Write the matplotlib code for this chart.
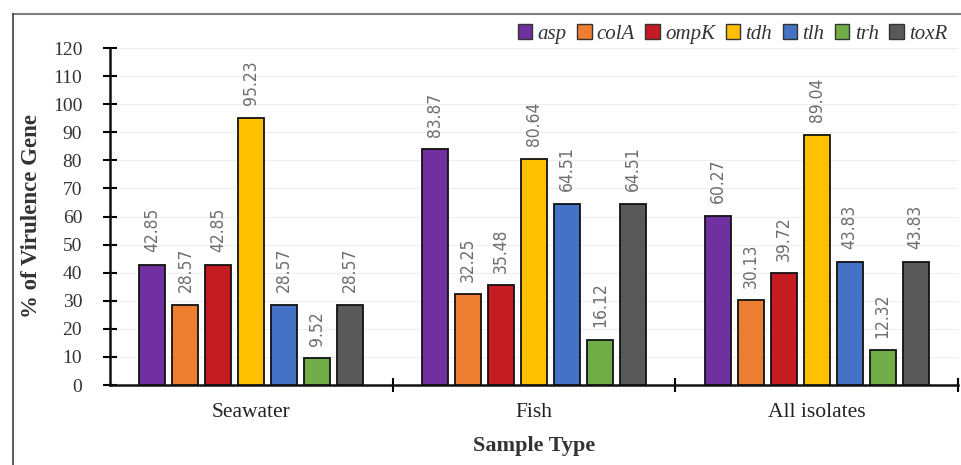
import matplotlib.pyplot as plt
import matplotlib.patches as patches
import numpy as np

# data
sample_types = ['Seawater', 'Fish', 'All isolates']
genes = ['asp', 'colA', 'ompK', 'tdh', 'tlh', 'trh', 'toxR']
asp = [42.85, 83.87, 60.27]
colA = [28.57, 32.25, 30.13]
ompK = [42.85, 35.48, 39.72]
tdh = [95.23, 80.64, 89.04]
tlh = [28.57, 64.51, 43.83]
trh = [9.52, 16.12, 12.32]
toxR = [28.57, 64.51, 43.83]
y_ticks = list(range(0, 121, 10))

series = [asp, colA, ompK, tdh, tlh, trh, toxR]
colors = ['#7030A0', '#ED7D31', '#C51B23', '#FFC000', '#4472C4', '#70AD47', '#595959']

fig = plt.figure(figsize=(9.61, 4.65), dpi=100)
W, H = 961, 465

# outer frame (top + left lines of the screenshot)
fig.add_artist(plt.Line2D([13 / W, 1], [1 - 14 / H, 1 - 14 / H], color='#808080', lw=1.5))
fig.add_artist(plt.Line2D([13 / W, 13 / W], [0, 1 - 14 / H], color='#404040', lw=1.2))

ax = fig.add_axes([110 / W, (H - 385) / H, (958 - 110) / W, (385 - 48) / H])

x = np.arange(len(sample_types))
step = 33 / 283
width = 26 / 283

for i, (g, vals, c) in enumerate(zip(genes, series, colors)):
    pos = x + (i - 3) * step
    ax.bar(pos, vals, width, color=c, edgecolor='#111111', linewidth=1.3,
           label=g, zorder=3)
    for xp, v in zip(pos, vals):
        ax.annotate(f'{v:.2f}', (xp, v), xytext=(0, 9), textcoords='offset points',
                    rotation=90, ha='center', va='bottom', fontsize=12.5,
                    color='#6e6e6e', family='DejaVu Sans', fontstretch='condensed')

ax.set_xlim(-0.5, 2.5)
ax.set_ylim(0, 120)
ax.set_yticks(y_ticks)
ax.set_yticklabels([str(t) for t in y_ticks], family='Liberation Serif', fontsize=14,
                   color='#333333')
ax.set_xticks(x)
ax.set_xticklabels(sample_types, family='Liberation Serif', fontsize=15.5, color='#222222')
ax.set_xticks([0.5, 1.5, 2.5], minor=True)

ax.tick_params(axis='y', direction='inout', length=10, width=1.5, pad=15)
ax.tick_params(axis='x', which='major', length=0, pad=13)
ax.tick_params(axis='x', which='minor', direction='inout', length=10, width=1.5)

ax.grid(axis='y', color='#eeeeee', lw=0.8, zorder=0)
for s in ['top', 'right']:
    ax.spines[s].set_visible(False)
for s in ['left', 'bottom']:
    ax.spines[s].set_linewidth(1.8)
    ax.spines[s].set_color('#111111')

ax.set_ylabel('% of Virulence Gene', family='Liberation Serif', fontweight='bold',
              fontsize=16.5, color='#333333', labelpad=8)
ax.set_xlabel('Sample Type', family='Liberation Serif', fontweight='bold',
              fontsize=16, color='#333333', labelpad=10)

handles = [patches.Patch(facecolor=c, edgecolor='#333333', lw=1) for c in colors]
leg = fig.legend(handles, genes, loc='center right', bbox_to_anchor=(1.005, 1 - 34 / H),
                 ncol=7, frameon=False, handlelength=0.7, handleheight=0.7,
                 handletextpad=0.25, columnspacing=0.5,
                 prop={'family': 'Liberation Serif', 'style': 'italic', 'size': 15})
for t in leg.get_texts():
    t.set_color('#333333')

fig.savefig('out.png', dpi=100)
